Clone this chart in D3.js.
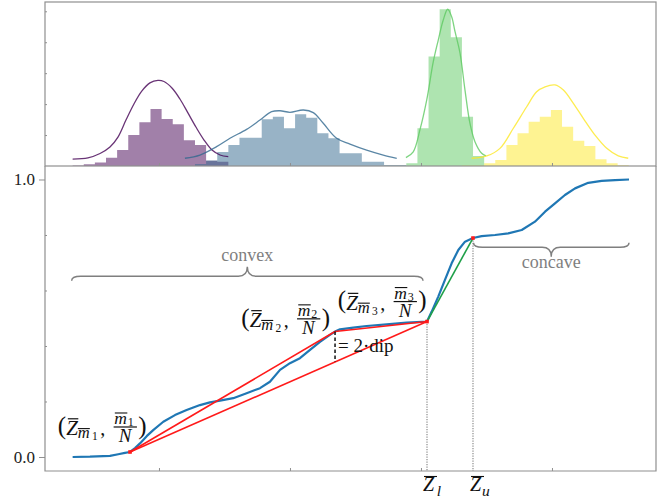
<!DOCTYPE html>
<html>
<head>
<meta charset="utf-8">
<script src="https://cdn.jsdelivr.net/npm/d3@7"></script>
<style>
  body { margin: 0; background: #fff; }
  svg { display: block; }
  text { font-family: "Liberation Serif", "DejaVu Serif", serif; }
</style>
</head>
<body>
<svg id="chart" width="670" height="500"></svg>
<script>
// ---------- data ----------
// shared histogram binning
const binStart = 0.341;
const binWidth = 0.0849;

// four sample groups: colour, first bin index, bar heights
const groupColors = ["#440154", "#31688e", "#5ec962", "#fde725"];
const groupStartBin = [0, 11, 30, 35];
const histA = [0.4, 1.1, 2.2, 5.3, 10.3, 20.0, 28.2, 36.8, 30.4, 27.0, 16.7, 13.6, 3.4, 2.8];
const histB = [1.3, 3.6, 9.0, 13.6, 18.3, 18.3, 30.2, 31.9, 24.4, 33.4, 31.2, 21.1, 17.9, 8.2, 8.2, 2.8, 2.8, 0.6, 0.6];
const histC = [1.7, 24.4, 70.7, 101.3, 83.2, 31.9, 6.5];
const histD = [0.3, 0.3, 1.7, 3.9, 13.6, 21.1, 28.6, 31.9, 36.2, 25.4, 16.4, 12.9, 4.3, 1.7, 0.5];

// kernel density curves
const kdeAx = [0.341, 0.458, 0.550, 0.626, 0.687, 0.748, 0.809, 0.870, 0.931, 0.992, 1.038, 1.099, 1.160, 1.221, 1.282, 1.344, 1.405, 1.466, 1.529];
const kdeAy = [4.5, 5.3, 8.1, 12.3, 18.7, 29.7, 40.1, 48.5, 53.7, 55.3, 54.6, 50.4, 43.3, 34.3, 25.2, 16.8, 10.3, 7.1, 6.0];
const kdeBx = [1.198, 1.313, 1.440, 1.542, 1.669, 1.771, 1.860, 1.924, 2.000, 2.102, 2.178, 2.254, 2.356, 2.458, 2.585, 2.712, 2.815];
const kdeBy = [5.0, 7.1, 12.5, 17.9, 23.7, 29.7, 35.1, 35.7, 34.7, 36.2, 34.5, 27.6, 17.9, 14.2, 10.3, 7.1, 5.0];
const kdeCx = [2.885, 2.941, 2.992, 3.044, 3.094, 3.132, 3.170, 3.204, 3.234, 3.260, 3.298, 3.336, 3.374, 3.412, 3.463, 3.496];
const kdeCy = [5.4, 9.2, 23.3, 42.7, 67.4, 81.4, 94.4, 101.3, 96.5, 86.8, 72.9, 49.1, 27.5, 15.7, 8.2, 6.5];
const kdeDx = [3.387, 3.502, 3.603, 3.705, 3.807, 3.883, 3.947, 4.023, 4.087, 4.163, 4.239, 4.328, 4.418, 4.506, 4.582];
const kdeDy = [5.0, 6.5, 11.4, 24.4, 38.3, 48.0, 51.2, 52.4, 49.1, 40.5, 30.8, 20.0, 11.4, 6.5, 5.0];

// empirical CDF of the pooled sample
const cdfX = [0.341, 0.473, 0.626, 0.689, 0.740, 0.779, 0.817, 0.855, 0.908, 0.956, 1.033, 1.122, 1.211, 1.313, 1.389, 1.466, 1.567, 1.669, 1.771, 1.847, 1.924, 2.000, 2.076, 2.153, 2.229, 2.305, 2.344, 2.382, 2.483, 2.585, 2.738, 2.891, 3.046, 3.082, 3.132, 3.183, 3.234, 3.285, 3.336, 3.397, 3.463, 3.565, 3.666, 3.769, 3.870, 3.947, 4.023, 4.099, 4.176, 4.277, 4.379, 4.481, 4.588];
const cdfY = [0, 0.001, 0.004, 0.010, 0.015, 0.018, 0.032, 0.049, 0.076, 0.097, 0.127, 0.151, 0.169, 0.187, 0.197, 0.203, 0.212, 0.230, 0.248, 0.271, 0.314, 0.338, 0.356, 0.386, 0.415, 0.440, 0.452, 0.460, 0.466, 0.472, 0.478, 0.484, 0.488, 0.524, 0.578, 0.638, 0.698, 0.746, 0.776, 0.789, 0.796, 0.800, 0.806, 0.818, 0.848, 0.884, 0.914, 0.944, 0.968, 0.988, 0.995, 0.998, 1.0];

// hull knots m1, m2, m3 and the upper modal point
const knotX = [0.779, 2.344, 3.046, 3.397];
const knotY = [0.018, 0.452, 0.488, 0.789];
const knotIndex = ["1", "2", "3"];

// axis ticks
const xTicks = [1, 2, 3, 4];
const yTicksLabelled = [0, 1];
const yTicksMinor = [0.2, 0.4, 0.6, 0.8];
const topTicks = [20, 40, 60, 80, 100];

// ---------- layout ----------
const svg = d3.select("#chart");
const L = 45, R = 656, topY0 = 2, topY1 = 166, botY1 = 471;
const axisGray = "#8f8f8f";

const x = d3.scaleLinear().domain([0.13, 4.794]).range([L, R]);
const yTop = d3.scaleLinear().domain([0, 106]).range([topY1, topY0]);
const yBot = d3.scaleLinear().domain([-0.0505, 1.0486]).range([botY1, topY1]);

// ---------- top panel: histograms + densities ----------
const hists = [histA, histB, histC, histD];
const kdes = [[kdeAx, kdeAy], [kdeBx, kdeBy], [kdeCx, kdeCy], [kdeDx, kdeDy]];
const gTop = svg.append("g");

const stepArea = d3.area()
  .x(d => x(d.x)).y0(yTop(0)).y1(d => yTop(d.y))
  .curve(d3.curveStepAfter);

hists.forEach((h, gi) => {
  const pts = h.map((v, i) => ({ x: binStart + (groupStartBin[gi] + i) * binWidth, y: v }));
  pts.push({ x: binStart + (groupStartBin[gi] + h.length) * binWidth, y: h[h.length - 1] });
  gTop.append("path")
    .attr("d", stepArea(pts))
    .attr("fill", groupColors[gi])
    .attr("fill-opacity", 0.5);
});

const kdeLine = d3.line().x(d => x(d[0])).y(d => yTop(d[1])).curve(d3.curveCatmullRom.alpha(0.5));
kdes.forEach(([kx, ky], gi) => {
  gTop.append("path")
    .attr("d", kdeLine(kx.map((v, i) => [v, ky[i]])))
    .attr("fill", "none")
    .attr("stroke", groupColors[gi])
    .attr("stroke-opacity", 0.8)
    .attr("stroke-width", 1.3);
});

// frame and ticks of top panel
svg.append("rect").attr("x", L).attr("y", topY0).attr("width", R - L).attr("height", topY1 - topY0)
  .attr("fill", "none").attr("stroke", axisGray).attr("stroke-width", 1.2);
svg.append("g").attr("transform", `translate(${L},0)`)
  .call(d3.axisRight(yTop).tickValues(topTicks).tickSize(2).tickFormat(""))
  .call(g => g.select(".domain").remove())
  .call(g => g.selectAll("line").attr("stroke", axisGray));
svg.append("g").attr("transform", `translate(0,${topY1})`)
  .call(d3.axisTop(x).tickValues(xTicks).tickSize(3).tickFormat(""))
  .call(g => g.select(".domain").remove())
  .call(g => g.selectAll("line").attr("stroke", axisGray));

// ---------- bottom panel: CDF with hull ----------
const gBot = svg.append("g");
const sx = v => x(v), sy = v => yBot(v);

// frame (left, right, bottom)
gBot.append("path")
  .attr("d", `M${L},${topY1}V${botY1}H${R}V${topY1}`)
  .attr("fill", "none").attr("stroke", axisGray).attr("stroke-width", 1.2);

svg.append("g").attr("transform", `translate(${L},0)`)
  .call(d3.axisLeft(yBot).tickValues(yTicksLabelled).tickSize(6).tickFormat(d3.format(".1f")))
  .call(g => g.select(".domain").remove())
  .call(g => g.selectAll("line").attr("stroke", axisGray))
  .call(g => g.selectAll("text").attr("font-size", 17).attr("fill", "#222")
    .attr("font-family", "Liberation Serif, serif").attr("dx", "-1"));
svg.append("g").attr("transform", `translate(${L},0)`)
  .call(d3.axisRight(yBot).tickValues(yTicksMinor).tickSize(2).tickFormat(""))
  .call(g => g.select(".domain").remove())
  .call(g => g.selectAll("line").attr("stroke", axisGray));
svg.append("g").attr("transform", `translate(0,${botY1})`)
  .call(d3.axisTop(x).tickValues(xTicks).tickSize(3).tickFormat(""))
  .call(g => g.select(".domain").remove())
  .call(g => g.selectAll("line").attr("stroke", axisGray));

// dotted guides at z_l and z_u
[2, 3].forEach(k => {
  gBot.append("line")
    .attr("x1", sx(knotX[k])).attr("x2", sx(knotX[k]))
    .attr("y1", sy(knotY[k])).attr("y2", botY1)
    .attr("stroke", "#8a8a8a").attr("stroke-width", 1.2).attr("stroke-dasharray", "1.2,1.3");
});

// CDF
gBot.append("path")
  .attr("d", d3.line().x(d => sx(d[0])).y(d => sy(d[1]))(cdfX.map((v, i) => [v, cdfY[i]])))
  .attr("fill", "none").attr("stroke", "#1f77b4").attr("stroke-width", 2.2)
  .attr("stroke-linejoin", "round");

// hull segments
const seg = (a, b, color) => gBot.append("line")
  .attr("x1", sx(knotX[a])).attr("y1", sy(knotY[a]))
  .attr("x2", sx(knotX[b])).attr("y2", sy(knotY[b]))
  .attr("stroke", color).attr("stroke-width", 1.6);
seg(0, 1, "#ff1a1a");
seg(1, 2, "#ff1a1a");
seg(0, 2, "#ff1a1a");
seg(2, 3, "#1fa049");

// markers
[0, 2, 3].forEach(k => {
  gBot.append("rect")
    .attr("x", sx(knotX[k]) - 1.8).attr("y", sy(knotY[k]) - 1.8)
    .attr("width", 3.6).attr("height", 3.6).attr("fill", "#ff1a1a");
});

// dip: vertical gap between m2 and the chord m1-m3
const t = (knotX[1] - knotX[0]) / (knotX[2] - knotX[0]);
const chordY = knotY[0] + t * (knotY[2] - knotY[0]);
gBot.append("line")
  .attr("x1", sx(knotX[1])).attr("x2", sx(knotX[1]))
  .attr("y1", sy(knotY[1])).attr("y2", sy(chordY))
  .attr("stroke", "#111").attr("stroke-width", 1.5).attr("stroke-dasharray", "3.5,2.5");
gBot.append("text")
  .attr("x", sx(knotX[1]) + 3).attr("y", (sy(knotY[1]) + sy(chordY)) / 2 + 5)
  .attr("font-size", 19).attr("fill", "#111")
  .text("= 2·dip");

// braces
function brace(x0, x1, yl, dir) {
  // dir = -1: cusp points up, ends curl down; dir = +1: cusp points down, ends curl up
  const xc = (x0 + x1) / 2, r = 9, end = -dir * 4.5, cusp = dir * 9.5;
  return `M${x0},${yl + end} Q${x0},${yl} ${x0 + r},${yl} L${xc - r},${yl} Q${xc},${yl} ${xc},${yl + cusp}` +
         ` Q${xc},${yl} ${xc + r},${yl} L${x1 - r},${yl} Q${x1},${yl} ${x1},${yl + end}`;
}
const braceGray = "#7f7f7f";
const cx0 = sx(cdfX[0]) - 1, cx1 = sx(knotX[2]) - 4;
gBot.append("path").attr("d", brace(cx0, cx1, sy(0.651), -1))
  .attr("fill", "none").attr("stroke", braceGray).attr("stroke-width", 1.5);
gBot.append("text").attr("x", (cx0 + cx1) / 2).attr("y", sy(0.706)).attr("text-anchor", "middle")
  .attr("font-size", 18).attr("fill", braceGray).text("convex");
const kx0 = sx(knotX[3]) + 0.5, kx1 = sx(cdfX[cdfX.length - 1]);
gBot.append("path").attr("d", brace(kx0, kx1, sy(0.756), 1))
  .attr("fill", "none").attr("stroke", braceGray).attr("stroke-width", 1.5);
gBot.append("text").attr("x", (kx0 + kx1) / 2).attr("y", sy(0.680)).attr("text-anchor", "middle")
  .attr("font-size", 18).attr("fill", braceGray).text("concave");

// coordinate labels (Z̄_{m̄k}, m̄k / N)
function mathLabel(x0, y0, k) {
  const g = gBot.append("g").attr("transform", `translate(${x0},${y0})`);
  const parts = [
    { t: "(", cx: 3.6, by: 6.8, fs: 25 },
    { t: "Z", cx: 13.8, by: 8, fs: 21, it: true },
    { t: "m", cx: 25.5, by: 11.5, fs: 16.5, it: true },
    { t: k, cx: 36.6, by: 13.3, fs: 11.5 },
    { t: ",", cx: 44.5, by: 8, fs: 20 },
    { t: "m", cx: 62.3, by: -2.8, fs: 17.5, it: true },
    { t: k, cx: 72.4, by: -0.8, fs: 12 },
    { t: "N", cx: 66.7, by: 15, fs: 19, it: true },
    { t: ")", cx: 84.2, by: 6.8, fs: 25 }
  ];
  parts.forEach(p => {
    g.append("text").attr("x", p.cx).attr("y", p.by).attr("text-anchor", "middle")
      .attr("font-size", p.fs).attr("font-style", p.it ? "italic" : "normal")
      .attr("fill", "#111").text(p.t);
  });
  const bars = [[9.5, 20, -8.2, 1.2], [19.5, 31.5, 1.6, 1.1], [56.5, 69, -14, 1.1], [55.3, 78.6, 0, 1.2]];
  bars.forEach(([a, b, yy, w]) => {
    g.append("line").attr("x1", a).attr("x2", b).attr("y1", yy).attr("y2", yy)
      .attr("stroke", "#111").attr("stroke-width", w);
  });
}
mathLabel(sx(knotX[0]) - 71.7, sy(knotY[0]) - 25, knotIndex[0]);
mathLabel(sx(knotX[1]) - 93.3, sy(knotY[1]) - 12.7, knotIndex[1]);
mathLabel(sx(knotX[2]) - 88.7, sy(knotY[2]) - 20, knotIndex[2]);

// axis labels z̄_l, z̄_u
function zLabel(xv, sub, dz) {
  const g = svg.append("g").attr("transform", `translate(${x(xv)},0)`);
  g.append("text").attr("x", dz).attr("y", 490.5).attr("text-anchor", "middle")
    .attr("font-size", 20).attr("font-style", "italic").attr("fill", "#111").text("Z");
  g.append("text").attr("x", dz + 10.5).attr("y", 496).attr("text-anchor", "middle")
    .attr("font-size", 15.5).attr("font-style", "italic").attr("fill", "#111").text(sub);
  g.append("line").attr("x1", dz - 4.5).attr("x2", dz + 8.5).attr("y1", 476.5).attr("y2", 476.5)
    .attr("stroke", "#111").attr("stroke-width", 1.1);
}
zLabel(knotX[2], "l", 1.5);
zLabel(knotX[3], "u", 2.5);
</script>
</body>
</html>
